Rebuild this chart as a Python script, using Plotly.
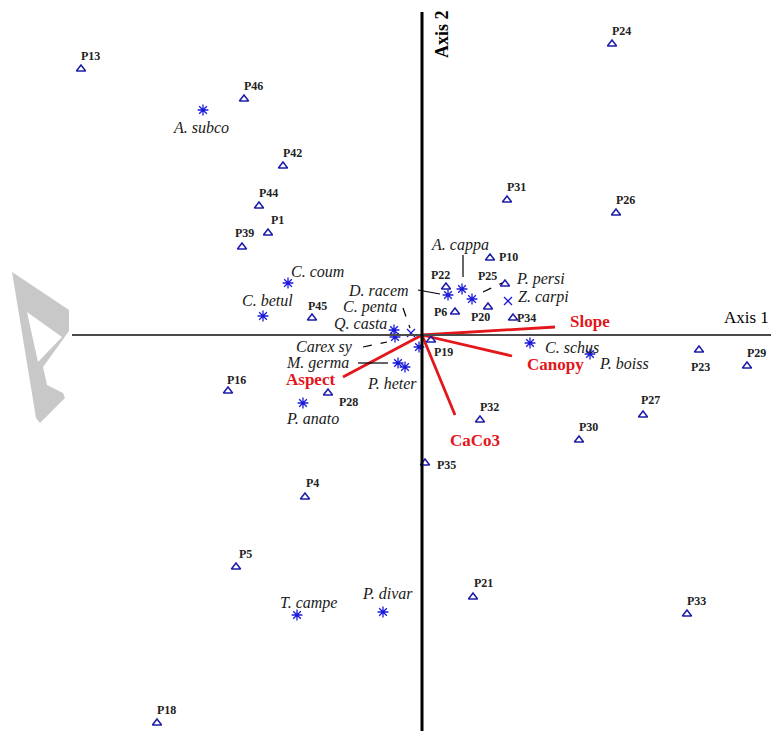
import plotly.graph_objects as go

# ---------------- data (ordination scores, axis units) ----------------
site_names = ["P13", "P46", "P42", "P44", "P1", "P39", "P45", "P16", "P28", "P24",
              "P31", "P26", "P10", "P22", "P25", "P6", "P20", "P34", "P19", "P23",
              "P29", "P27", "P30", "P32", "P35", "P4", "P5", "P21", "P33", "P18"]
site_x = [-3.41, -1.78, -1.39, -1.63, -1.54, -1.80, -1.10, -1.94, -0.94, 1.90,
          0.85, 1.94, 0.68, 0.24, 0.83, 0.33, 0.66, 0.91, 0.09, 2.77,
          3.25, 2.21, 1.57, 0.58, 0.03, -1.17, -1.86, 0.51, 2.65, -2.65]
site_y = [2.66, 2.36, 1.69, 1.29, 1.02, 0.88, 0.17, -0.56, -0.58, 2.91,
          1.35, 1.22, 0.77, 0.48, 0.51, 0.23, 0.28, 0.17, -0.05, -0.15,
          -0.31, -0.80, -1.05, -0.85, -1.28, -1.62, -2.32, -2.62, -2.79, -3.88]

species_names = ["A. subco", "C. coum", "C. betul", "Q. casta", "Carex sy", "C. penta",
                 "D. racem", "M. germa", "P. heter", "P. anato", "A. cappa", "P. persi",
                 "Z. carpi", "C. schus", "P. boiss", "T. campe", "P. divar", ""]
species_x = [-2.19, -1.34, -1.59, -0.28, -0.27, -0.11,
             0.26, -0.24, -0.17, -1.19, 0.40, 0.50,
             0.86, 1.08, 1.68, -1.25, -0.39, -0.03]
species_y = [2.25, 0.52, 0.19, 0.05, -0.02, 0.02,
             0.40, -0.28, -0.32, -0.68, 0.46, 0.36,
             0.34, -0.08, -0.19, -2.80, -2.77, -0.12]
species_kind = ["ast", "ast", "ast", "ast", "ast", "x",
                "ast", "ast", "ast", "ast", "ast", "ast",
                "x", "ast", "ast", "ast", "ast", "ast"]

env_names = ["Slope", "Canopy", "CaCo3", "Aspect"]
env_x = [1.33, 0.90, 0.33, -0.79]
env_y = [0.08, -0.21, -0.80, -0.42]

# ---------------- styling / label placement (pixels) ----------------
W, H = 771, 731
XR = [-4.22, 3.49]
YR = [-3.96, 3.35]
PX = W / (XR[1] - XR[0])  # pixels per unit

site_off = {"P28": (20, -9), "P10": (18, 1), "P22": (-6, 12), "P25": (-18, 8),
            "P6": (-15, 0), "P20": (-8, -10), "P34": (13, 0), "P19": (12, -12),
            "P23": (1, -17), "P35": (21, -2), "P39": (2, 14), "P45": (5, 12),
            "P16": (8, 11), "P27": (7, 15), "P4": (7, 14), "P21": (10, 14)}
site_default = (9, 13)

species_off = {"A. subco": (-2, -17), "C. coum": (29, 12), "C. betul": (4, 16),
               "Q. casta": (-34, 7), "Carex sy": (-71, -10), "C. penta": (-41, 26),
               "D. racem": (-70, 5), "M. germa": (-81, 0), "P. heter": (-13, -16),
               "P. anato": (9, -15), "A. cappa": (-2, 44), "P. persi": (68, 20),
               "Z. carpi": (35, 4), "C. schus": (42, -4), "P. boiss": (34, -9),
               "T. campe": (11, 12), "P. divar": (4, 19)}

env_off = {"Slope": (35, 6), "Canopy": (43, -8), "CaCo3": (20, -25), "Aspect": (-33, -2)}

# leader lines: (species, start offset px, end offset px, dash)
leaders = [("D. racem", (-30, 5), (-8, 1), "solid"),
           ("A. cappa", (1, 34), (1, 12), "solid"),
           ("P. persi", (11, 7), (30, 16), "dash"),
           ("C. penta", (-8, 25), (-1, 5), "dash"),
           ("Carex sy", (-32, -10), (-8, -5), "dash"),
           ("M. germa", (-40, 0), (-10, 0), "solid")]

SERIF = "Liberation Serif, Times New Roman, serif"
BLUE_SITE = "#1c1ca8"
BLUE_SP = "#1a1ad8"
RED = "#e3161c"

fig = go.Figure()

# watermark (decorative, page-pixel coordinates)
outer = [(12, 272), (69, 310), (69, 331), (43, 367), (47, 385), (63, 393),
         (65, 398), (40, 423), (36, 418)]
inner = [(27, 312), (38, 362), (62, 337)]


def to_path(pts):
    return "M " + " L ".join(f"{x / W:.4f},{1 - y / H:.4f}" for x, y in pts) + " Z"


fig.add_shape(type="path", xref="paper", yref="paper",
              path=to_path(outer) + " " + to_path(inner),
              fillcolor="#c8c8c8", line=dict(width=0), layer="below")

# axes lines
fig.add_shape(type="line", x0=-3.50, x1=XR[1], y0=0, y1=0,
              line=dict(color="#4a4a4a", width=2))
fig.add_shape(type="line", x0=0, x1=0, y0=YR[0], y1=3.23,
              line=dict(color="black", width=3))

# environment vectors
for n, x, y in zip(env_names, env_x, env_y):
    fig.add_trace(go.Scatter(x=[0, x], y=[0, y], mode="lines",
                             line=dict(color=RED, width=2.8), hoverinfo="skip",
                             showlegend=False))

# leader lines
sp_idx = {n: i for i, n in enumerate(species_names)}
for name, s, e, dash in leaders:
    i = sp_idx[name]
    px0, py0 = species_x[i], species_y[i]
    fig.add_shape(type="line",
                  x0=px0 + s[0] / PX, y0=py0 + s[1] / PX,
                  x1=px0 + e[0] / PX, y1=py0 + e[1] / PX,
                  line=dict(color="black", width=1.2, dash=dash))

# sites
fig.add_trace(go.Scatter(x=site_x, y=site_y, mode="markers",
                         marker=dict(symbol="triangle-up-open", size=8,
                                     color=BLUE_SITE, line=dict(width=1.5)),
                         showlegend=False, hovertext=site_names))

# species
ax = [x for x, k in zip(species_x, species_kind) if k == "ast"]
ay = [y for y, k in zip(species_y, species_kind) if k == "ast"]
xx = [x for x, k in zip(species_x, species_kind) if k == "x"]
xy = [y for y, k in zip(species_y, species_kind) if k == "x"]
fig.add_trace(go.Scatter(x=ax, y=ay, mode="markers",
                         marker=dict(symbol="asterisk-open", size=9, color=BLUE_SP,
                                     line=dict(width=1.3, color=BLUE_SP)),
                         showlegend=False))
fig.add_trace(go.Scatter(x=xx, y=xy, mode="markers",
                         marker=dict(symbol="x-thin-open", size=8, color=BLUE_SP,
                                     line=dict(width=1.3, color=BLUE_SP)),
                         showlegend=False))

ann = []
for n, x, y in zip(site_names, site_x, site_y):
    dx, dy = site_off.get(n, site_default)
    ann.append(dict(x=x, y=y, text=f"<b>{n}</b>", showarrow=False,
                    xshift=dx, yshift=dy, xanchor="center", yanchor="middle",
                    font=dict(family=SERIF, size=12, color="#222222")))
for n, x, y in zip(species_names, species_x, species_y):
    if not n:
        continue
    dx, dy = species_off[n]
    ann.append(dict(x=x, y=y, text=f"<i>{n}</i>", showarrow=False,
                    xshift=dx, yshift=dy, xanchor="center", yanchor="middle",
                    font=dict(family=SERIF, size=16, color="#1a1a1a")))
for n, x, y in zip(env_names, env_x, env_y):
    dx, dy = env_off[n]
    ann.append(dict(x=x, y=y, text=f"<b>{n}</b>", showarrow=False,
                    xshift=dx, yshift=dy, xanchor="center", yanchor="middle",
                    font=dict(family=SERIF, size=17, color=RED)))

ann.append(dict(x=20 / PX, y=3.01, text="<b>Axis 2</b>", textangle=-90,
                showarrow=False, xanchor="center", yanchor="middle",
                font=dict(family=SERIF, size=18, color="black")))
ann.append(dict(x=XR[1], y=18 / PX, text="Axis 1", showarrow=False,
                xanchor="right", yanchor="middle",
                font=dict(family=SERIF, size=17, color="black")))

fig.update_layout(
    width=W, height=H, margin=dict(l=0, r=0, t=0, b=0),
    paper_bgcolor="white", plot_bgcolor="white",
    xaxis=dict(range=XR, visible=False, fixedrange=True),
    yaxis=dict(range=YR, visible=False, fixedrange=True),
    annotations=ann, showlegend=False, hovermode=False,
)

# remove the browser's default page margin so the figure fills the window exactly
fig.write_html("out.html",
               config={"displayModeBar": False, "staticPlot": True},
               post_script="document.body.style.margin='0';"
                           "document.body.style.overflow='hidden';")
